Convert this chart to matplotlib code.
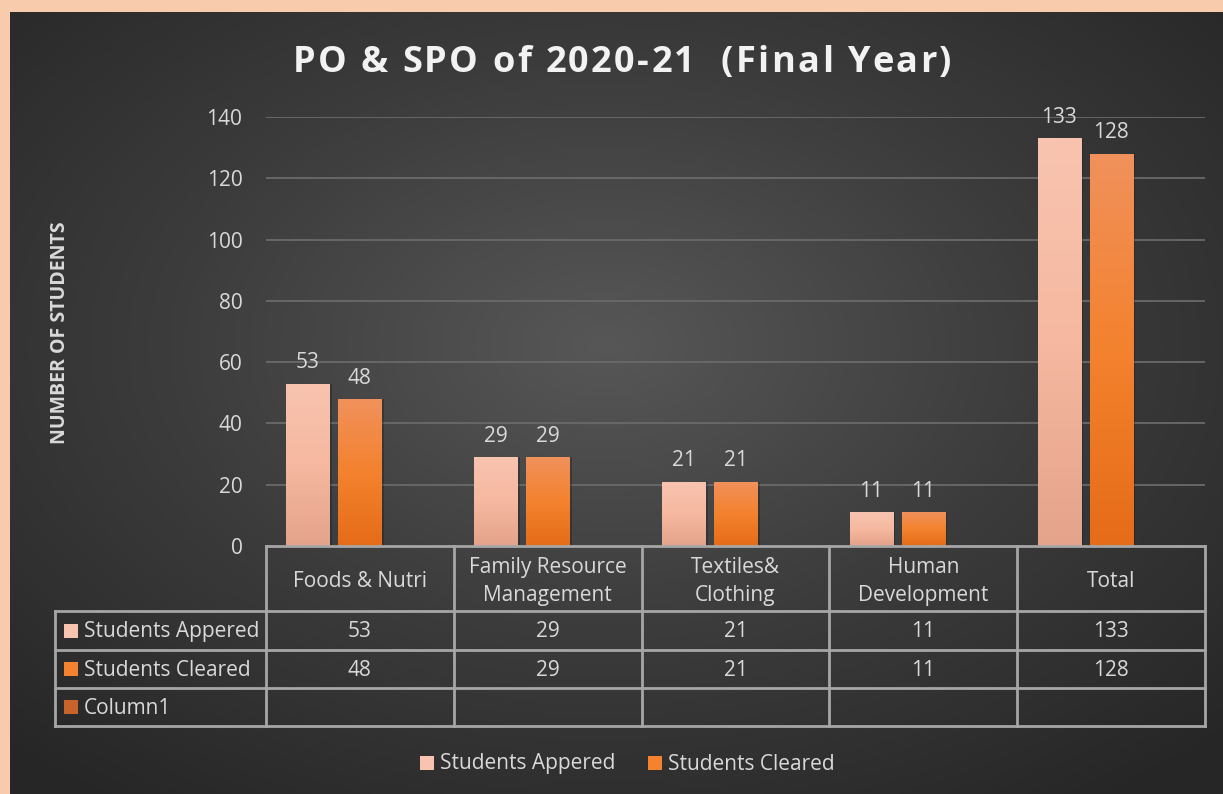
import numpy as np
import matplotlib.pyplot as plt
from matplotlib.colors import LinearSegmentedColormap
from matplotlib.patches import Rectangle
from matplotlib.font_manager import FontProperties

categories = ['Foods & Nutri', 'Family Resource\nManagement', 'Textiles&\nClothing',
              'Human\nDevelopment', 'Total']
appeared = [53, 29, 21, 11, 133]
cleared = [48, 29, 21, 11, 128]
series_names = ['Students Appered', 'Students Cleared', 'Column1']
yticks = [0, 20, 40, 60, 80, 100, 120, 140]
title = 'PO & SPO of 2020-21  (Final Year)'

W, H = 1223, 794
plt.rcParams['font.family'] = ['Open Sans', 'DejaVu Sans']
txt = '#D9D9D9'
grid_c = '#6A6A6A'
line_c = '#A6A6A6'
fs = 15

fig = plt.figure(figsize=(W / 100, H / 100), dpi=100)
fig.patch.set_facecolor('#F8CBAD')

def fx(px):
    return px / W

def fy(py):
    return 1 - py / H

# dark radial gradient panel
bg = fig.add_axes([fx(10), 0, 1 - fx(10), fy(12)])
bg.set_axis_off()
yy, xx = np.mgrid[0:400, 0:600]
cx, cy = 300 * 0.98, 200 * 0.85
r = np.sqrt(((xx - cx) / 600) ** 2 + ((yy - cy) / 400) ** 2)
r = np.clip(r / 0.72, 0, 1)
bgmap = LinearSegmentedColormap.from_list('bg', ['#575757', '#3C3C3C', '#262626'])
bg.imshow(r, cmap=bgmap, aspect='auto', extent=[0, 1, 0, 1], vmin=0, vmax=1)
bg.set_xlim(0, 1)
bg.set_ylim(0, 1)

# main axes
x_left, x_right, y0, y140 = 266, 1205, 546, 117
ax = fig.add_axes([fx(x_left), fy(y0), fx(x_right - x_left), (y0 - y140) / H])
ax.patch.set_alpha(0)
for s in ax.spines.values():
    s.set_visible(False)
ax.set_yticks(yticks)
ax.set_yticklabels([str(v) for v in yticks], color=txt, fontsize=fs)
ax.tick_params(axis='y', length=0, pad=17)
ax.set_xticks([])
for v in yticks[1:]:
    ax.axhline(v, color=grid_c, lw=1.3, zorder=0)

x = np.arange(len(categories))
bw = 0.229
step = 0.277
cmap_a = LinearSegmentedColormap.from_list('a', ['#E4A38B', '#F6B8A0', '#F8C4B0'])
cmap_c = LinearSegmentedColormap.from_list('c', ['#E56C18', '#F4822E', '#F0915C'])
grad = np.linspace(0, 1, 256).reshape(-1, 1)

for vals, off, cm in [(appeared, -step, cmap_a), (cleared, 0, cmap_c)]:
    bars = ax.bar(x + off, vals, width=bw, color='none', zorder=2)
    for b, v in zip(bars, vals):
        sh = Rectangle((b.get_x() + 0.014, 0), bw, v, color='black', alpha=0.22,
                       lw=0, zorder=1.5)
        ax.add_patch(sh)
        im = ax.imshow(grad, cmap=cm, origin='lower', aspect='auto',
                       extent=[b.get_x(), b.get_x() + bw, 0, v], zorder=2)
        im.set_clip_path(b)
        ax.text(b.get_x() + bw / 2, v + 5, str(v), ha='center', va='baseline',
                color=txt, fontsize=fs)
ax.set_xlim(-0.5, len(categories) - 0.5)
ax.set_ylim(0, 140)

# overlay in pixel coordinates for table, title and legend
tbl = fig.add_axes([0, 0, 1, 1])
tbl.set_axis_off()
tbl.set_xlim(0, W)
tbl.set_ylim(H, 0)

# letter-spaced title
renderer = fig.canvas.get_renderer()
tprop = FontProperties(family=['Open Sans', 'DejaVu Sans'], weight='bold', size=26)
extra = 2.4
widths = [renderer.get_text_width_height_descent(ch, tprop, ismath=False)[0] for ch in title]
total = sum(widths) + extra * (len(title) - 1)
xs = 622 - total / 2
for ch, w in zip(title, widths):
    tbl.text(xs, 72, ch, ha='left', va='baseline', color='#F2F2F2', fontproperties=tprop)
    xs += w + extra

fig.text(fx(60), fy(333), 'NUMBER OF STUDENTS', rotation=90, ha='center', va='center',
         color=txt, fontsize=14, fontweight='bold')

# data table
col_w = (x_right - x_left) / len(categories)
rows_y = [546, 611, 650, 688, 726]
lab_left = 55
lk = dict(color=line_c, lw=2, solid_capstyle='projecting')
tbl.plot([x_left, x_right], [rows_y[0], rows_y[0]], **lk)
for yv in rows_y[1:]:
    tbl.plot([lab_left, x_right], [yv, yv], **lk)
tbl.plot([lab_left, lab_left], [rows_y[1], rows_y[-1]], **lk)
for k in range(len(categories) + 1):
    xv = x_left + k * col_w
    tbl.plot([xv, xv], [rows_y[0], rows_y[-1]], **lk)
for k, c in enumerate(categories):
    xc = x_left + (k + 0.5) * col_w
    tbl.text(xc, (rows_y[0] + rows_y[1]) / 2 + 3, c, ha='center', va='center', color=txt,
             fontsize=fs, linespacing=1.45)
    tbl.text(xc, (rows_y[1] + rows_y[2]) / 2 + 1, str(appeared[k]), ha='center', va='center',
             color=txt, fontsize=fs)
    tbl.text(xc, (rows_y[2] + rows_y[3]) / 2 + 1, str(cleared[k]), ha='center', va='center',
             color=txt, fontsize=fs)
sw_cols = ['#F8C4B0', '#F4822E', '#C8642A']
for i, (name, sc) in enumerate(zip(series_names, sw_cols)):
    yc = (rows_y[i + 1] + rows_y[i + 2]) / 2
    tbl.add_patch(Rectangle((64, yc - 7), 14, 14, color=sc, lw=0))
    tbl.text(84, yc + 1, name, ha='left', va='center', color=txt, fontsize=fs)

# legend
leg_items = [(series_names[0], sw_cols[0], 420), (series_names[1], sw_cols[1], 648)]
for name, sc, xl in leg_items:
    tbl.add_patch(Rectangle((xl, 756), 14, 14, color=sc, lw=0))
    tbl.text(xl + 20, 764, name, ha='left', va='center', color=txt, fontsize=fs)

fig.savefig('out.png', dpi=100, facecolor=fig.get_facecolor())
